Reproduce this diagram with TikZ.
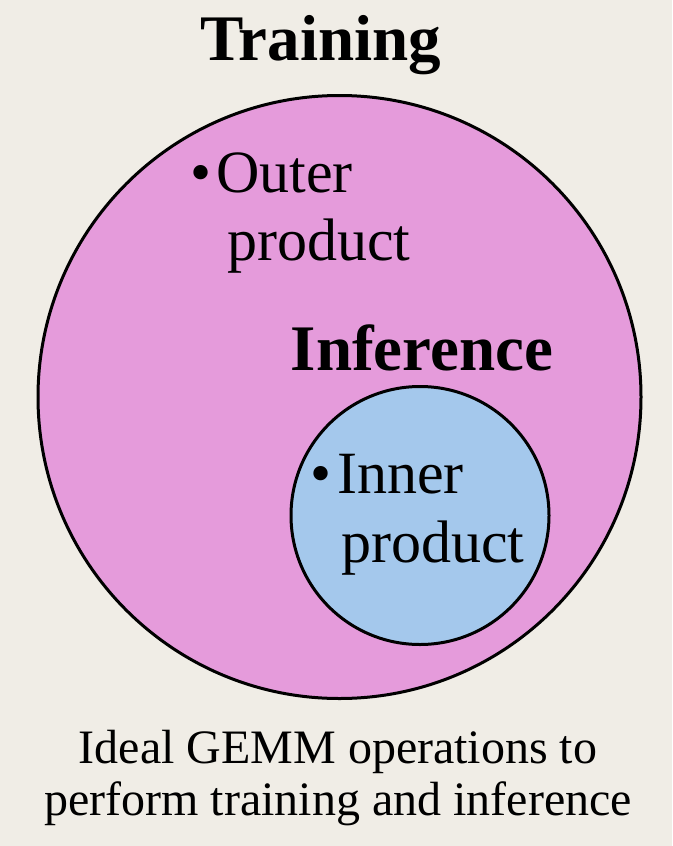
\documentclass[tikz,border=0pt]{standalone}
\usepackage{fontspec}
\setmainfont{Liberation Serif}
\definecolor{bg}{HTML}{F0EDE6}
\definecolor{pinkfill}{HTML}{E59BDB}
\definecolor{bluefill}{HTML}{A4C8EC}
\begin{document}
\begin{tikzpicture}[x=1pt,y=-1pt,
  ring/.style={draw=black,line width=3pt},
  headtxt/.style={font=\fontsize{65}{70}\selectfont\bfseries,inner sep=0pt,anchor=base},
  itemtxt/.style={font=\fontsize{60}{68}\selectfont,inner sep=0pt,anchor=base west},
  capt/.style={font=\fontsize{48}{52}\selectfont,inner sep=0pt,align=center,anchor=base}]
\fill[bg] (0,0) rectangle (672,846);
\useasboundingbox (0,0) rectangle (672,846);
\node[ring,fill=pinkfill,circle,minimum size=603pt,inner sep=0pt] (train) at (339.5,397) {};
\node[ring,fill=bluefill,circle,minimum size=258pt,inner sep=0pt] (infer) at (420,515.5) {};
\node[headtxt] (trainlbl) at (320.5,60) {Training};
\node[headtxt] (inferlbl) at (422,370) {Inference};
\node[itemtxt] (ob) at (190,192) {\textbullet};
\node[itemtxt] (o1) at (216,192) {Outer};
\node[itemtxt] (o2) at (227,260) {product};
\node[itemtxt] (ib) at (310,493) {\textbullet};
\node[itemtxt] (i1) at (337,493) {Inner};
\node[itemtxt] (i2) at (341,562) {product};
\node[capt] (c1) at (338,763) {Ideal GEMM operations to};
\node[capt] (c2) at (338,815) {perform training and inference};
\end{tikzpicture}
\end{document}
